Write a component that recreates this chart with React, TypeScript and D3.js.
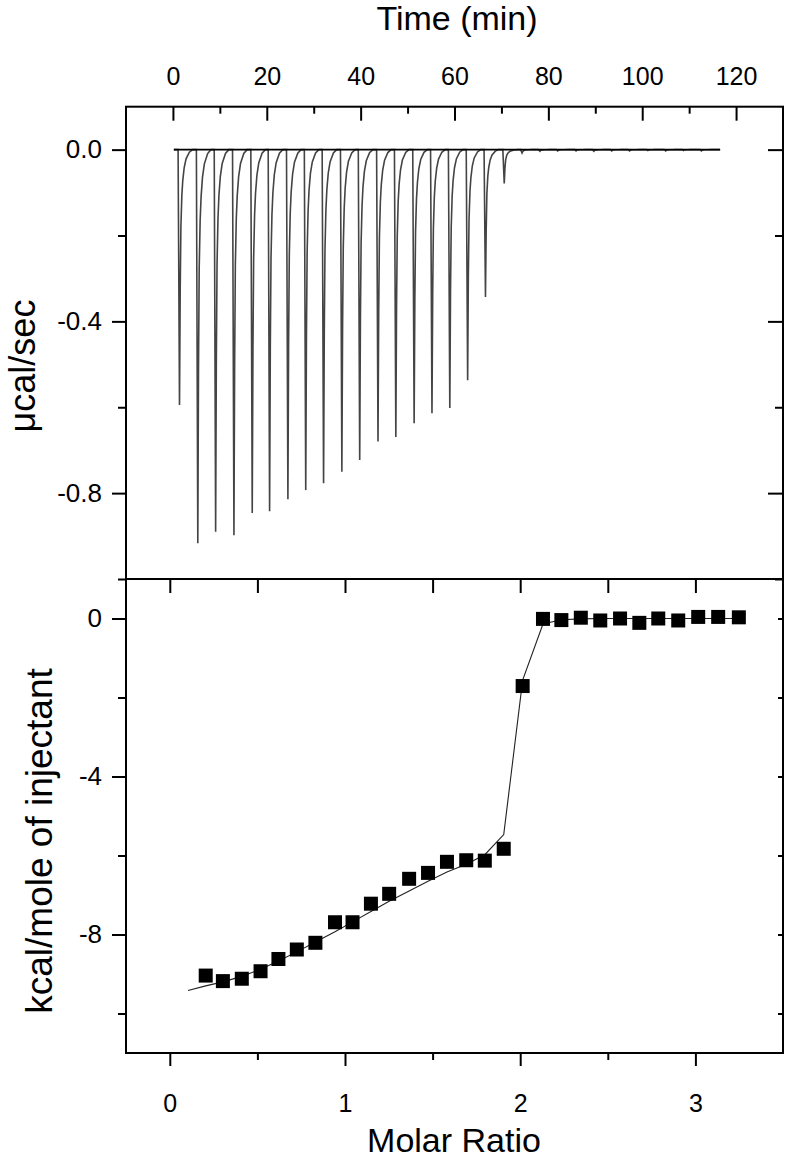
import React, { useRef, useEffect } from 'react';
import * as d3 from 'd3';

// raw thermogram: injection times (min) and peak minima (ucal/sec)
const injTimes = [1.4, 5.3, 9.1, 13.0, 16.9, 20.6, 24.5, 28.3, 32.1, 36.0, 39.8, 43.7, 47.5, 51.4, 55.2,
  59.0, 62.8, 66.6, 70.6, 74.4, 78.2, 82.0, 85.9, 89.7, 93.5, 97.3, 101.2, 105.0, 108.8, 112.6];
const peakHeights = [-0.595, -0.917, -0.89, -0.898, -0.846, -0.842, -0.814, -0.793, -0.777, -0.75, -0.723,
  -0.68, -0.669, -0.637, -0.614, -0.602, -0.537, -0.343, -0.079, -0.008, -0.004, -0.003, -0.003, -0.004,
  -0.003, -0.003, -0.002, -0.003, -0.002, -0.003];
// shape of one peak: time offset (min) vs fraction of peak depth
const profileT = [-0.3, 0, 0.15, 0.3, 0.5, 0.7, 1.0, 1.4, 2.1, 2.8];
const profileF = [0, 1, 0.55, 0.3, 0.18, 0.12, 0.07, 0.036, 0.01, 0];
const traceStart = 0.2;
const traceEnd = 116.6;

// integrated heats
const molarRatio = [0.205, 0.303, 0.411, 0.518, 0.62, 0.725, 0.831, 0.943, 1.043, 1.148, 1.252, 1.366,
  1.474, 1.582, 1.692, 1.798, 1.906, 2.014, 2.13, 2.235, 2.346, 2.457, 2.57, 2.68, 2.788, 2.902, 3.016,
  3.13, 3.248];
const heat = [-9.04, -9.18, -9.12, -8.93, -8.62, -8.38, -8.21, -7.69, -7.69, -7.22, -6.97, -6.59, -6.44,
  -6.16, -6.12, -6.13, -5.83, -1.71, -0.01, -0.04, 0.02, -0.05, 0.0, -0.11, 0.0, -0.05, 0.04, 0.04, 0.03];
// fitted curve
const fitRatio = [0.104, 0.205, 0.303, 0.411, 0.518, 0.62, 0.725, 0.831, 0.943, 1.043, 1.148, 1.252, 1.366,
  1.474, 1.582, 1.692, 1.798, 1.906, 2.014, 2.13, 2.235, 2.346, 2.457, 2.57, 2.68, 2.788, 2.902, 3.016,
  3.13, 3.248];
const fitHeat = [-9.42, -9.3, -9.2, -9.06, -8.88, -8.67, -8.44, -8.19, -7.93, -7.68, -7.42, -7.16, -6.9,
  -6.65, -6.42, -6.22, -5.98, -5.47, -1.56, -0.14, -0.03, -0.01, 0, 0, 0, 0, 0, 0, 0, 0];

// tick values
const timeMajor = [0, 20, 40, 60, 80, 100, 120];
const timeMinor = [10, 30, 50, 70, 90, 110];
const powerMajor = [0, -0.4, -0.8];
const powerMinor = [-0.2, -0.6, -1.0];
const ratioMajor = [0, 1, 2, 3];
const ratioMinor = [0.5, 1.5, 2.5];
const heatMajor = [0, -4, -8];
const heatMinor = [-2, -6, -10];

const FONT = "'Liberation Sans', Arial, sans-serif";

const App = () => {
  const svgRef = useRef(null);

  useEffect(() => {
    const width = 787;
    const height = 1158;
    const left = 126, right = 783, top = 106.7, mid = 579, bottom = 1053;

    const svg = d3.select(svgRef.current)
      .attr('width', width)
      .attr('height', height);
    svg.selectAll('*').remove();

    const xT = d3.scaleLinear().domain([-10, 130]).range([left, right]);
    const yT = d3.scaleLinear().domain([-1.0, 0.1]).range([mid, top]);
    const xB = d3.scaleLinear().domain([-0.25, 3.5]).range([left, right]);
    const yB = d3.scaleLinear().domain([-11, 1]).range([bottom, mid]);

    // thermogram trace
    const trace = [{ t: traceStart, v: 0 }];
    injTimes.forEach((t0, i) => {
      profileT.forEach((dt, j) => trace.push({ t: t0 + dt, v: peakHeights[i] * profileF[j] }));
    });
    trace.push({ t: traceEnd, v: 0 });

    svg.append('path')
      .datum(trace)
      .attr('fill', 'none')
      .attr('stroke', '#444')
      .attr('stroke-width', 1.6)
      .attr('d', d3.line().x(d => xT(d.t)).y(d => yT(d.v)));

    svg.append('line')
      .attr('x1', xT(traceStart)).attr('x2', xT(traceEnd))
      .attr('y1', yT(0)).attr('y2', yT(0))
      .attr('stroke', '#000')
      .attr('stroke-width', 1.6);

    // fit line and squares
    const fit = fitRatio.map((r, i) => ({ r, h: fitHeat[i] }));
    svg.append('path')
      .datum(fit)
      .attr('fill', 'none')
      .attr('stroke', '#222')
      .attr('stroke-width', 1.1)
      .attr('d', d3.line().x(d => xB(d.r)).y(d => yB(d.h)));

    const sq = 14;
    svg.selectAll('rect.pt')
      .data(molarRatio)
      .enter().append('rect')
      .attr('class', 'pt')
      .attr('x', d => xB(d) - sq / 2)
      .attr('y', (d, i) => yB(heat[i]) - sq / 2)
      .attr('width', sq)
      .attr('height', sq)
      .attr('fill', '#000');

    // axes
    const styleAxis = (g, size) => {
      g.select('.domain').remove();
      g.selectAll('line').attr('stroke', '#000').attr('stroke-width', 2);
      g.selectAll('text').attr('font-family', FONT).attr('font-size', size).attr('fill', '#000');
    };
    const addAxis = (axis, transform, size = 25) => {
      svg.append('g').attr('transform', transform).call(axis).call(g => styleAxis(g, size));
    };
    const none = () => '';

    // top panel
    addAxis(d3.axisTop(xT).tickValues(timeMajor).tickSize(-14).tickPadding(22).tickFormat(d => String(d)),
      `translate(0,${top})`, 25);
    addAxis(d3.axisTop(xT).tickValues(timeMinor).tickSize(-7).tickFormat(none), `translate(0,${top})`);
    addAxis(d3.axisLeft(yT).tickValues(powerMajor).tickSize(14).tickPadding(10).tickFormat(d => d.toFixed(1)),
      `translate(${left},0)`, 26);
    addAxis(d3.axisLeft(yT).tickValues(powerMinor).tickSize(8).tickFormat(none), `translate(${left},0)`);
    addAxis(d3.axisRight(yT).tickValues(powerMajor).tickSize(-15).tickFormat(none), `translate(${right},0)`);
    addAxis(d3.axisRight(yT).tickValues(powerMinor).tickSize(-8).tickFormat(none), `translate(${right},0)`);

    // bottom panel
    addAxis(d3.axisTop(xB).tickValues(ratioMajor.concat(ratioMinor)).tickSize(-14).tickFormat(none),
      `translate(0,${mid})`);
    addAxis(d3.axisBottom(xB).tickValues(ratioMajor).tickSize(13).tickPadding(28).tickFormat(d => String(d)),
      `translate(0,${bottom})`, 25);
    addAxis(d3.axisBottom(xB).tickValues(ratioMinor).tickSize(7).tickFormat(none), `translate(0,${bottom})`);
    addAxis(d3.axisLeft(yB).tickValues(heatMajor).tickSize(14).tickPadding(10).tickFormat(d => String(d)),
      `translate(${left},0)`, 26);
    addAxis(d3.axisLeft(yB).tickValues(heatMinor).tickSize(8).tickFormat(none), `translate(${left},0)`);
    addAxis(d3.axisRight(yB).tickValues(heatMajor.concat(heatMinor)).tickSize(-5).tickFormat(none),
      `translate(${right},0)`);

    // frames
    [[top, mid], [mid, bottom]].forEach(([y0, y1]) => {
      svg.append('rect')
        .attr('x', left).attr('y', y0)
        .attr('width', right - left).attr('height', y1 - y0)
        .attr('fill', 'none')
        .attr('stroke', '#000')
        .attr('stroke-width', 2);
    });

    // titles
    const title = (txt, x, y, size, rot = false) => {
      svg.append('text')
        .attr('transform', rot ? `translate(${x},${y}) rotate(-90)` : `translate(${x},${y})`)
        .attr('text-anchor', 'middle')
        .attr('font-family', FONT)
        .attr('font-size', size)
        .attr('fill', '#000')
        .text(txt);
    };
    title('Time (min)', 457, 30, 34);
    title('Molar Ratio', 454, 1152, 34);
    title('μcal/sec', 35, 366, 36, true);
    title('kcal/mole of injectant', 52, 841, 37, true);
  }, []);

  return (
    <div style={{ position: 'absolute', left: 0, top: 0, background: '#fff' }}>
      <svg ref={svgRef}></svg>
    </div>
  );
};

export default App;
